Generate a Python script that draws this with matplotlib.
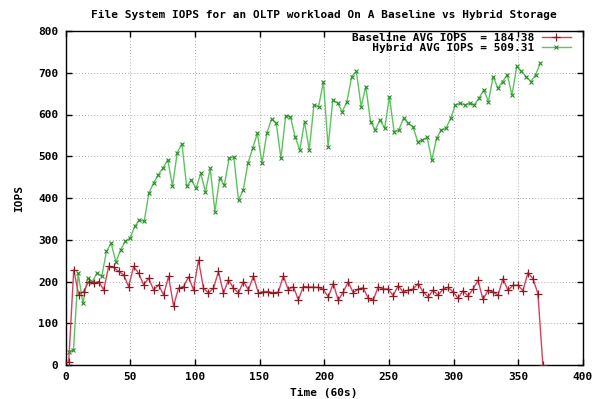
import matplotlib
matplotlib.use("Agg")
import matplotlib.pyplot as plt
import numpy as np

# ---- data ----
baseline_iops = [8, 228, 168, 176, 200, 196, 200, 180, 236, 234, 224, 216, 188, 236, 220, 192,
                 208, 180, 192, 168, 212, 142, 184, 188, 211, 180, 251, 184, 172, 184, 224, 172,
                 204, 184, 172, 200, 180, 213, 172, 176, 176, 172, 175, 213, 180, 188, 156, 188,
                 187, 186, 186, 181, 163, 195, 155, 175, 199, 173, 182, 185, 160, 155, 187, 182,
                 182, 166, 190, 175, 179, 182, 195, 175, 163, 179, 167, 182, 186, 175, 160, 178,
                 165, 182, 203, 157, 179, 175, 167, 207, 179, 191, 191, 178, 221, 207, 171, 0]
hybrid_iops = [32, 36, 220, 148, 208, 200, 220, 212, 272, 292, 246, 276, 296, 304, 332, 348,
               344, 412, 436, 456, 472, 492, 428, 508, 530, 428,
               443, 423, 459, 415, 471, 367, 447, 431, 495, 499, 395, 419, 483, 519, 555, 483,
               555, 589, 579, 495, 597, 595, 547, 515, 583,
               515, 623, 619, 679, 523, 635, 627, 607, 631, 691, 703, 619, 667, 583, 563, 587,
               567, 643, 559, 563, 591, 579, 571, 535, 539, 545,
               491, 543, 563, 567, 591, 623, 627, 623, 627, 623, 639, 659, 631, 691, 663, 679,
               695, 647, 715, 703, 691, 679, 695, 723]
baseline_start, baseline_end = 2.5, 369
hybrid_start, hybrid_end = 2.5, 367
baseline_time = np.linspace(baseline_start, baseline_end, len(baseline_iops))
hybrid_time = np.linspace(hybrid_start, hybrid_end, len(hybrid_iops))

baseline_label = "Baseline AVG IOPS  = 184.38"
hybrid_label = "   Hybrid AVG IOPS = 509.31"
title = "File System IOPS for an OLTP workload On A Baseline vs Hybrid Storage"
xlabel = "Time (60s)"
ylabel = "IOPS"
xticks = list(range(0, 401, 50))
yticks = list(range(0, 801, 100))

# ---- drawing ----
mono = ["DejaVu Sans Mono"]
plt.rcParams["font.family"] = mono
plt.rcParams["font.size"] = 8
plt.rcParams["font.weight"] = "bold"

fig = plt.figure(figsize=(6.06, 3.99), dpi=100)
ax = fig.add_axes([65.5 / 606, 1 - 365 / 399, (583 - 65.5) / 606, (365 - 31) / 399])

ax.plot(baseline_time, baseline_iops, color="#d8405a", lw=1.0, marker="+", ms=5.5,
        mec="#8a1a22", mew=0.9, label=baseline_label, zorder=4)
ax.plot(hybrid_time, hybrid_iops, color="#5cc45c", lw=1.0, marker="x", ms=3.5,
        mec="#2a8a2a", mew=0.8, label=hybrid_label, zorder=3)

ax.set_xlim(0, 400)
ax.set_ylim(0, 800)
ax.set_xticks(xticks)
ax.set_yticks(yticks)
ax.tick_params(direction="in", top=True, right=True, length=4, width=1,
               labelsize=8, pad=5)
for lab in ax.get_xticklabels() + ax.get_yticklabels():
    lab.set_fontweight("bold")
ax.grid(True, color="#a0a0a0", linestyle=(0, (1.2, 2.5)), linewidth=0.6)
for s in ax.spines.values():
    s.set_linewidth(1.0)
    s.set_color("black")

ax.set_title(title, fontsize=8, fontweight="bold", pad=9)
ax.set_xlabel(xlabel, fontsize=8, fontweight="bold", labelpad=4)
ax.set_ylabel(ylabel, fontsize=8, fontweight="bold", labelpad=10)

leg = ax.legend(loc="upper right", bbox_to_anchor=(1 - 10 / 517.5, 1.0),
                frameon=False, markerfirst=False,
                prop={"family": mono, "weight": "bold", "size": 8},
                handlelength=2.6, handletextpad=0.7, labelspacing=0.0,
                borderaxespad=0.1, borderpad=0.1)

fig.savefig("out.png", dpi=100, facecolor="white")
